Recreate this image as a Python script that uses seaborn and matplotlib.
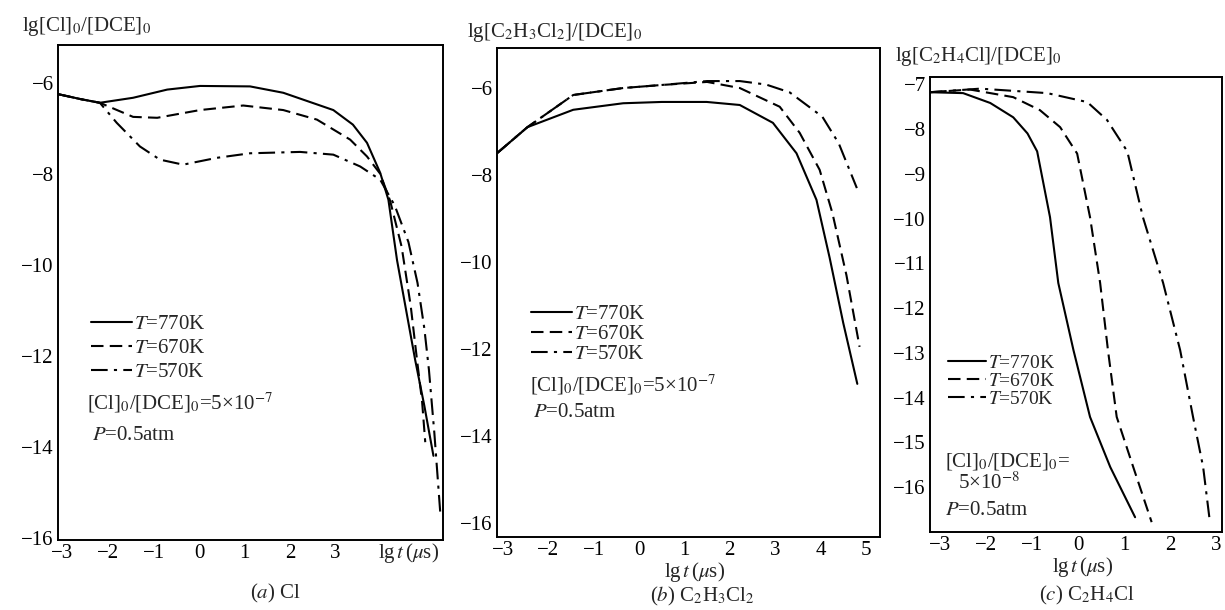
import matplotlib
matplotlib.use("Agg")
import matplotlib.pyplot as plt
from matplotlib.lines import Line2D
import seaborn as sns
import pandas as pd

sns.set_style("white")
plt.rcParams['font.family'] = ['Liberation Serif', 'DejaVu Serif']
plt.rcParams['mathtext.fontset'] = 'stix'

# ---------------- data ----------------
temps = ["770K", "670K", "570K"]

# (a) Cl
a_770_x = [-3.1, -2.6, -2.18, -1.45, -0.7, 0.02, 1.12, 1.85, 2.95, 3.38, 3.69, 3.98, 4.16, 4.35, 4.55, 4.75, 4.95, 5.15]
a_770_y = [-6.25, -6.36, -6.44, -6.33, -6.15, -6.07, -6.08, -6.22, -6.6, -6.92, -7.32, -7.98, -8.57, -9.9, -11.0, -12.1, -13.1, -14.2]
a_670_x = [-3.1, -2.6, -2.18, -1.45, -0.92, 0.02, 0.97, 1.85, 2.59, 3.32, 3.69, 3.98, 4.2, 4.45, 4.65, 4.79, 4.9, 4.97]
a_670_y = [-6.25, -6.36, -6.44, -6.75, -6.77, -6.6, -6.5, -6.6, -6.81, -7.25, -7.62, -8.0, -8.6, -9.6, -10.9, -12.1, -13.0, -13.9]
a_570_x = [-3.1, -2.6, -2.18, -1.81, -1.3, -0.86, -0.35, 0.39, 1.12, 2.22, 2.95, 3.54, 3.98, 4.3, 4.6, 4.8, 4.95, 5.05, 5.17, 5.3]
a_570_y = [-6.25, -6.36, -6.44, -6.88, -7.4, -7.69, -7.8, -7.65, -7.55, -7.52, -7.58, -7.84, -8.13, -8.7, -9.5, -10.4, -11.4, -12.3, -13.7, -15.45]

# (b) C2H3Cl2
b_770_x = [-3.12, -2.46, -1.45, -0.35, 0.5, 1.49, 2.22, 2.95, 3.47, 3.91, 4.2, 4.5, 4.81]
b_770_y = [-7.49, -6.9, -6.5, -6.35, -6.32, -6.32, -6.39, -6.8, -7.5, -8.57, -9.9, -11.4, -12.8]
b_670_x = [-3.12, -2.46, -1.45, -0.35, 0.5, 1.5, 2.22, 3.1, 3.54, 3.98, 4.26, 4.57, 4.86]
b_670_y = [-7.49, -6.9, -6.16, -6.0, -5.93, -5.86, -6.0, -6.43, -7.03, -7.88, -8.87, -10.3, -11.95]
b_570_x = [-3.12, -2.46, -1.45, -0.35, 0.5, 1.5, 2.22, 2.8, 3.32, 4.04, 4.4, 4.8]
b_570_y = [-7.49, -6.9, -6.16, -6.0, -5.93, -5.84, -5.84, -5.92, -6.1, -6.66, -7.27, -8.3]

# (c) C2H4Cl
c_770_x = [-3.22, -2.5, -1.91, -1.41, -1.1, -0.89, -0.61, -0.43, -0.1, 0.26, 0.7, 1.24]
c_770_y = [-7.18, -7.2, -7.42, -7.74, -8.1, -8.5, -9.97, -11.44, -12.94, -14.43, -15.55, -16.67]
c_670_x = [-3.22, -2.35, -1.41, -0.83, -0.39, -0.02, 0.26, 0.48, 0.65, 0.84, 1.2, 1.6]
c_670_y = [-7.18, -7.12, -7.29, -7.58, -7.96, -8.55, -9.97, -11.44, -12.94, -14.43, -15.55, -16.78]
c_570_x = [-3.22, -2.13, -0.67, 0.2, 0.63, 1.07, 1.41, 1.85, 2.22, 2.5, 2.72, 2.87]
c_570_y = [-7.18, -7.1, -7.2, -7.4, -7.8, -8.5, -9.97, -11.44, -12.94, -14.43, -15.55, -16.8]

a_yticks = [-6, -8, -10, -12, -14, -16]
a_xticks = [-3, -2, -1, 0, 1, 2, 3, 4]
a_xticklabels = ["−3", "−2", "−1", "0", "1", "2", "3", ""]
b_yticks = [-6, -8, -10, -12, -14, -16]
b_xticks = [-3, -2, -1, 0, 1, 2, 3, 4, 5]
b_xticklabels = ["−3", "−2", "−1", "0", "1", "2", "3", "4", "5"]
c_yticks = [-7, -8, -9, -10, -11, -12, -13, -14, -15, -16]
c_xticks = [-3, -2, -1, 0, 1, 2, 3]
c_xticklabels = ["−3", "−2", "−1", "0", "1", "2", "3"]

# ---------------- styling ----------------
W, H = 1225, 610
styles = {"770K": "-", "670K": (0, (6, 3)), "570K": (0, (8, 3, 1.5, 3))}
FS = 15

fig = plt.figure(figsize=(W / 100, H / 100), dpi=100)


def px_axes(l, t, r, b):
    return fig.add_axes([l / W, 1 - b / H, (r - l) / W, (b - t) / H])


def fmt(v):
    return ("−" + str(-v)) if v < 0 else str(v)


def draw(ax, series, xlim, ylim, yticks, xticks, xticklabels):
    for T, (xs, ys) in zip(temps, series):
        df = pd.DataFrame({"x": xs, "y": ys})
        sns.lineplot(data=df, x="x", y="y", ax=ax, color="black", lw=1.5,
                     linestyle=styles[T], sort=False, estimator=None)
    ax.set_xlim(*xlim)
    ax.set_ylim(*ylim)
    ax.set_yticks(yticks)
    ax.set_yticklabels([fmt(v) for v in yticks])
    ax.set_xticks(xticks)
    ax.set_xticklabels(xticklabels)
    ax.set_xlabel("")
    ax.set_ylabel("")
    ax.tick_params(direction="in", length=5, width=1.2, labelsize=FS, pad=3, colors="black")
    for s in ax.spines.values():
        s.set_color("black")
        s.set_linewidth(1.4)
        s.set_visible(True)


def legend(ax, x, y, spacing, size=FS):
    handles = [Line2D([], [], color="black", lw=1.5, linestyle=styles[T]) for T in temps]
    labels = ["$T$=" + T for T in temps]
    ax.legend(handles, labels, loc="upper left", bbox_to_anchor=(x, y), frameon=False,
              fontsize=size, handlelength=2.0, handletextpad=0.1, labelspacing=spacing,
              borderaxespad=0, borderpad=0)


# (a)
ax1 = px_axes(58, 45, 443, 540)
draw(ax1, [(a_770_x, a_770_y), (a_670_x, a_670_y), (a_570_x, a_570_y)],
     (-3.1, 5.36), (-16.05, -5.17), a_yticks, a_xticks, a_xticklabels)
legend(ax1, 0.085, 0.455, 0.2)
ax1.text(0.075, 0.277, "[Cl]$_0$/[DCE]$_0$=5×10$^{-7}$", transform=ax1.transAxes,
         fontsize=FS, va="center", ha="left")
ax1.text(0.088, 0.212, "$P$=0.5atm", transform=ax1.transAxes, fontsize=FS, va="center", ha="left")

# (b)
ax2 = px_axes(497, 48, 880, 537)
draw(ax2, [(b_770_x, b_770_y), (b_670_x, b_670_y), (b_570_x, b_570_y)],
     (-3.13, 5.31), (-16.32, -5.08), b_yticks, b_xticks, b_xticklabels)
legend(ax2, 0.088, 0.475, 0.02)
ax2.text(0.086, 0.311, "[Cl]$_0$/[DCE]$_0$=5×10$^{-7}$", transform=ax2.transAxes,
         fontsize=FS, va="center", ha="left")
ax2.text(0.094, 0.254, "$P$=0.5atm", transform=ax2.transAxes, fontsize=FS, va="center", ha="left")

# (c)
ax3 = px_axes(930, 77, 1222, 532)
draw(ax3, [(c_770_x, c_770_y), (c_670_x, c_670_y), (c_570_x, c_570_y)],
     (-3.22, 3.13), (-17.0, -6.84), c_yticks, c_xticks, c_xticklabels)
legend(ax3, 0.06, 0.39, 0.02, size=14)
ax3.text(0.05, 0.154, "[Cl]$_0$/[DCE]$_0$=", transform=ax3.transAxes, fontsize=FS, va="center", ha="left")
ax3.text(0.096, 0.108, "5×10$^{-8}$", transform=ax3.transAxes, fontsize=FS, va="center", ha="left")
ax3.text(0.05, 0.048, "$P$=0.5atm", transform=ax3.transAxes, fontsize=FS, va="center", ha="left")


def ftext(x, y, s, ha="left", size=FS):
    fig.text(x / W, 1 - y / H, s, ha=ha, va="center", fontsize=size)


# y-axis titles
ftext(22, 27, "lg[Cl]$_0$/[DCE]$_0$")
ftext(467, 33, "lg[C$_2$H$_3$Cl$_2$]/[DCE]$_0$")
ftext(895, 57, "lg[C$_2$H$_4$Cl]/[DCE]$_0$")

# x-axis titles and captions
ftext(378, 553, "lg$\\,t\\,$($\\mu$s)")
ftext(695, 572, "lg$\\,t\\,$($\\mu$s)", ha="center")
ftext(1083, 567, "lg$\\,t\\,$($\\mu$s)", ha="center")
ftext(275, 593, "($a$) Cl", ha="center")
ftext(702, 596, "($b$) C$_2$H$_3$Cl$_2$", ha="center")
ftext(1087, 595, "($c$) C$_2$H$_4$Cl", ha="center")

fig.savefig("out.png", dpi=100)
